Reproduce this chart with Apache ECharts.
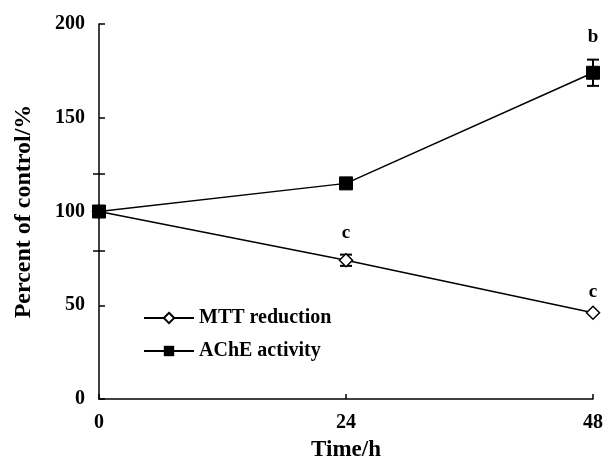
<!DOCTYPE html>
<html>
<head>
<meta charset="utf-8">
<script src="https://cdn.jsdelivr.net/npm/echarts@6/dist/echarts.min.js"></script>
<style>
  html, body { margin: 0; padding: 0; background: #fff; }
  #chart { width: 606px; height: 468px; }
</style>
</head>
<body>
<div id="chart"></div>
<script>
const timePoints = [0, 24, 48];
const mttValues = [100, 74, 46];
const mttErrors = [0, 3, 0];
const mttNotes = ['', 'c', 'c'];
const acheValues = [100, 115, 174];
const acheErrors = [0, 0, 7];
const acheNotes = ['', '', 'b'];
const yTickValues = [0, 50, 100, 150, 200];
const xTickValues = [0, 24, 48];
const strayTicks = [79, 120];

const font = 'Liberation Serif';

function pointData(values, notes, distances) {
    return timePoints.map((t, i) => ({
        value: [t, values[i]],
        label: notes[i] ? {
            show: true, formatter: notes[i], position: 'top', distance: distances[i],
            fontFamily: font, fontWeight: 'bold', fontSize: 19, color: '#000'
        } : { show: false }
    }));
}

function errorData(values, errors) {
    return timePoints
        .map((t, i) => [t, values[i] - errors[i], values[i] + errors[i]])
        .filter((d, i) => errors[i] > 0);
}

function renderErrorBar(params, api) {
    const x = api.value(0);
    const lo = api.coord([x, api.value(1)]);
    const hi = api.coord([x, api.value(2)]);
    const w = 6;
    const style = { stroke: '#000', lineWidth: 2 };
    return {
        type: 'group',
        children: [
            { type: 'line', shape: { x1: lo[0], y1: lo[1], x2: hi[0], y2: hi[1] }, style },
            { type: 'line', shape: { x1: lo[0] - w, y1: lo[1], x2: lo[0] + w, y2: lo[1] }, style },
            { type: 'line', shape: { x1: hi[0] - w, y1: hi[1], x2: hi[0] + w, y2: hi[1] }, style }
        ]
    };
}

const chart = echarts.init(document.getElementById('chart'));

const axisLabelStyle = { fontFamily: font, fontWeight: 'bold', fontSize: 20, color: '#000' };

const option = {
    animation: false,
    grid: { left: 99, right: 12, top: 24, bottom: 69 },
    legend: {
        data: ['MTT reduction', 'AChE activity'],
        orient: 'vertical',
        left: 138,
        top: 303,
        itemWidth: 50,
        itemHeight: 13,
        itemGap: 13,
        textStyle: { fontFamily: font, fontWeight: 'bold', fontSize: 20, color: '#000' }
    },
    xAxis: {
        type: 'value',
        min: 0,
        max: 48,
        interval: 24,
        name: 'Time/h',
        nameLocation: 'middle',
        nameGap: 40,
        nameTextStyle: { fontFamily: font, fontWeight: 'bold', fontSize: 23, color: '#000' },
        axisLine: { lineStyle: { color: '#000', width: 1.5 } },
        axisTick: { inside: true, length: 5, lineStyle: { color: '#000', width: 1.5 } },
        axisLabel: Object.assign({ margin: 14, customValues: xTickValues }, axisLabelStyle),
        splitLine: { show: false }
    },
    yAxis: [
        {
            type: 'value',
            min: 0,
            max: 200,
            interval: 50,
            name: 'Percent of control/%',
            nameLocation: 'middle',
            nameGap: 63,
            nameTextStyle: { fontFamily: font, fontWeight: 'bold', fontSize: 24, color: '#000' },
            axisLine: { show: true, lineStyle: { color: '#000', width: 1.5 } },
            axisTick: { show: true, inside: true, length: 6, lineStyle: { color: '#000', width: 1.5 } },
            axisLabel: Object.assign({ margin: 14, customValues: yTickValues }, axisLabelStyle),
            splitLine: { show: false }
        },
        {
            type: 'value', min: 0, max: 200, position: 'left',
            axisLine: { show: false },
            axisTick: { show: true, inside: true, length: 6, customValues: strayTicks, lineStyle: { color: '#000', width: 1.5 } },
            axisLabel: { show: false },
            splitLine: { show: false }
        },
        {
            type: 'value', min: 0, max: 200, position: 'left',
            axisLine: { show: false },
            axisTick: { show: true, inside: false, length: 6, customValues: strayTicks, lineStyle: { color: '#000', width: 1.5 } },
            axisLabel: { show: false },
            splitLine: { show: false }
        }
    ],
    series: [
        {
            name: 'MTT reduction',
            type: 'line',
            data: pointData(mttValues, mttNotes, [0, 10, 4]),
            symbol: 'diamond',
            symbolSize: 13,
            lineStyle: { color: '#000', width: 1.5 },
            itemStyle: { color: '#fff', borderColor: '#000', borderWidth: 1.5 },
            z: 3
        },
        {
            name: 'AChE activity',
            type: 'line',
            data: pointData(acheValues, acheNotes, [0, 0, 19]),
            symbol: 'rect',
            symbolSize: 13,
            lineStyle: { color: '#000', width: 1.5 },
            itemStyle: { color: '#000', borderColor: '#000' },
            z: 4
        },
        {
            name: 'MTT err',
            type: 'custom',
            renderItem: renderErrorBar,
            data: errorData(mttValues, mttErrors),
            z: 2
        },
        {
            name: 'AChE err',
            type: 'custom',
            renderItem: renderErrorBar,
            data: errorData(acheValues, acheErrors),
            z: 2
        }
    ]
};

chart.setOption(option);
</script>
</body>
</html>
